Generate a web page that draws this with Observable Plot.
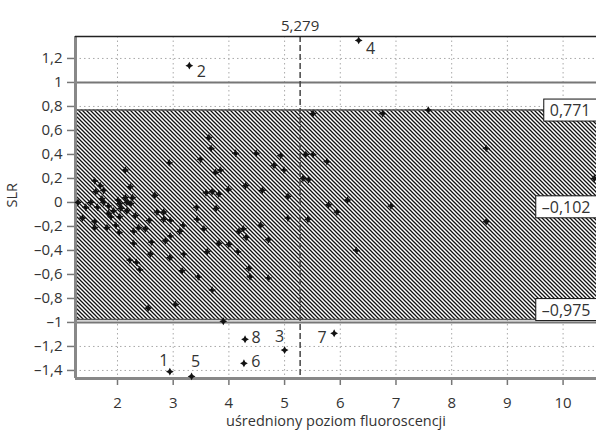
<!DOCTYPE html>
<html><head><meta charset="utf-8">
<script src="https://cdn.jsdelivr.net/npm/d3@7"></script>
<script src="https://cdn.jsdelivr.net/npm/@observablehq/plot@0.6"></script>
<style>body{margin:0;background:#fff;} svg{display:block}</style>
</head><body><div id="chart"></div>
<script>
// ---- data ----
const xValues = [1.29,1.37,1.43,1.52,1.59,1.59,1.59,1.61,1.64,1.69,1.72,1.75,1.75,1.81,1.84,1.84,1.88,1.93,1.97,2.01,2.04,2.04,2.03,2.06,2.14,2.14,2.17,2.17,2.23,2.24,2.27,2.29,2.29,2.32,2.22,2.34,2.40,2.38,2.50,2.55,2.57,2.59,2.61,2.67,2.71,2.83,2.83,2.86,2.93,2.95,2.95,2.94,3.04,3.12,3.18,3.16,3.19,3.42,3.43,3.45,3.49,3.55,3.59,3.61,3.64,3.68,3.70,3.70,3.76,3.85,3.77,3.82,3.82,3.90,3.99,4.00,4.12,4.16,4.18,4.26,4.30,4.31,4.36,4.38,4.49,4.57,4.60,4.71,4.71,4.81,4.93,4.99,5.06,5.06,5.33,5.43,5.38,5.51,5.51,5.76,5.42,5.79,5.94,6.13,6.29,6.76,6.91,7.58,8.62,8.62,10.56];
const yValues = [0.00,-0.13,-0.04,0.00,-0.16,-0.21,0.18,0.09,-0.04,0.14,0.03,0.10,0.00,-0.21,-0.03,-0.09,-0.12,-0.07,-0.19,0.02,-0.01,-0.12,-0.25,-0.05,0.27,0.04,0.00,-0.07,0.13,-0.01,0.04,-0.24,-0.34,-0.11,-0.48,-0.50,-0.56,-0.21,-0.22,-0.88,-0.15,-0.43,-0.33,0.06,-0.08,-0.08,-0.14,-0.32,0.33,-0.28,-0.15,-0.46,-0.85,-0.24,-0.19,-0.57,-0.43,-0.04,-0.14,-0.62,0.36,-0.22,0.08,-0.41,0.54,0.45,0.09,-0.73,0.25,0.27,-0.05,0.07,-0.34,-0.99,0.11,-0.35,0.41,-0.41,-0.24,-0.22,0.14,-0.29,-0.55,-0.62,0.41,-0.19,0.10,-0.31,-0.63,0.31,0.39,0.27,0.05,-0.13,0.20,0.19,0.40,0.40,0.74,0.34,-0.14,-0.02,-0.08,0.02,-0.40,0.74,-0.03,0.77,0.45,-0.16,0.20];
const outlierLabels = ["1","2","3","4","5","6","7","8"];
const outlierX = [2.94,3.29,5.00,6.33,3.33,4.27,5.89,4.29];
const outlierY = [-1.41,1.14,-1.23,1.35,-1.45,-1.34,-1.09,-1.14];
const meanX = 5.279;
const bandValues = [0.771,-0.102,-0.975];
const limitLines = [1,-1];
const xTicks = [2,3,4,5,6,7,8,9,10];
const yTicks = [-1.4,-1.2,-1,-0.8,-0.6,-0.4,-0.2,0,0.2,0.4,0.6,0.8,1,1.2];
const xLabel = "uśredniony poziom fluoroscencji";
const yLabel = "SLR";

// ---- chart ----
const xDomain = [1.246, 10.6];
const yDomain = [-1.467, 1.383];
const fmt = v => String(v).replace(".", ",").replace("-", "\u2013");
const fmtY = v => fmt(Math.round(v * 10) / 10);
const font = "'Open Sans', sans-serif";
const ink = "#333";

// four-pointed star marker
const star4 = {
  draw(context, size) {
    const R = Math.sqrt(size / Math.PI) * 1.15, r = R * 0.5;
    for (let i = 0; i < 8; i++) {
      const a = i * Math.PI / 4 - Math.PI / 2;
      const rad = i % 2 ? r : R;
      const px = rad * Math.cos(a), py = rad * Math.sin(a);
      i ? context.lineTo(px, py) : context.moveTo(px, py);
    }
    context.closePath();
  }
};

const points = xValues.map((x, i) => ({x, y: yValues[i]}));
const outliers = outlierLabels.map((label, i) => ({label, x: outlierX[i], y: outlierY[i]}));
const allPoints = points.concat(outliers);
const place = {"1":[-6,-11],"2":[12,6],"3":[-5,-13],"4":[12,8],"5":[4,-15],"6":[12,-1],"7":[-12,5],"8":[11,-1]};
const boxDy = [1, -7, -9];

const svg = Plot.plot({
  width: 596, height: 435,
  marginLeft: 75, marginRight: 0, marginTop: 36, marginBottom: 57,
  style: {fontFamily: font, fontSize: "14px", background: "white", color: ink},
  x: {domain: xDomain, label: null},
  y: {domain: yDomain, label: null},
  marks: [
    Plot.gridX(xTicks, {stroke: "#aaa", strokeOpacity: 1, strokeDasharray: "1.5,3", strokeWidth: 1}),
    Plot.gridY(yTicks, {stroke: "#aaa", strokeOpacity: 1, strokeDasharray: "1.5,3", strokeWidth: 1}),
    Plot.rect([0], {x1: xDomain[0], x2: xDomain[1], y1: bandValues[2], y2: bandValues[0], fill: "url(#hatch)"}),
    Plot.ruleY([bandValues[0], bandValues[2]], {stroke: "#555", strokeWidth: 1.5}),
    Plot.ruleY(limitLines, {stroke: "#777", strokeWidth: 2}),
    Plot.ruleX([meanX], {stroke: "#444", strokeWidth: 1.5, strokeDasharray: "6,3"}),
    Plot.axisX({ticks: xTicks, tickSize: 7, tickPadding: 12, tickFormat: d => String(d), stroke: "#777", strokeWidth: 1.5, fill: ink, label: null, fontSize: 15}),
    Plot.axisY({ticks: yTicks, tickSize: 8, tickPadding: 5, tickFormat: fmtY, stroke: "#777", strokeWidth: 1.5, fill: ink, label: null, fontSize: 15}),
    Plot.ruleX([xDomain[0]], {stroke: "#888", strokeWidth: 3}),
    Plot.ruleY([yDomain[0]], {stroke: "#888", strokeWidth: 3}),
    Plot.ruleY([yDomain[1]], {stroke: "#222", strokeWidth: 1.5}),
    Plot.dot(allPoints, {x: "x", y: "y", symbol: star4, r: 3.4, fill: "#111"}),
    ...outliers.map(o => Plot.text([o], {x: "x", y: "y", text: "label", dx: place[o.label][0], dy: place[o.label][1], fontSize: 16, fill: ink})),
    Plot.text([meanX], {x: d => d, frameAnchor: "top", dy: -16, text: d => fmt(d), fontSize: 15, fill: ink}),
    ...bandValues.map((v, i) => Plot.text([v], {y: d => d, frameAnchor: "right", dx: -6, dy: boxDy[i], textAnchor: "end", text: d => fmt(d), fontSize: 16, fill: ink, className: "boxlabel"})),
    Plot.text([xLabel], {frameAnchor: "bottom", dy: 47, text: d => d, fontSize: 14.5, fill: ink}),
    Plot.text([yLabel], {frameAnchor: "left", dx: -63, rotate: -90, text: d => d, fontSize: 14.5, fill: ink})
  ]
});

const ns = "http://www.w3.org/2000/svg";
const defs = document.createElementNS(ns, "defs");
defs.innerHTML = '<pattern id="hatch" patternUnits="userSpaceOnUse" width="4" height="4"><rect width="4" height="4" fill="white"/><path d="M-1,-1 L5,5 M-1,3 L1,5 M3,-1 L5,1" stroke="#111" stroke-width="1.3"/></pattern>';
svg.insertBefore(defs, svg.firstChild);
document.getElementById("chart").appendChild(svg);

// white boxes with black borders behind the band labels
svg.querySelectorAll(".boxlabel text").forEach(t => {
  const b = t.getBBox();
  const r = document.createElementNS(ns, "rect");
  r.setAttribute("x", b.x - 6);
  r.setAttribute("y", b.y);
  r.setAttribute("width", b.width + 30);
  r.setAttribute("height", b.height);
  r.setAttribute("fill", "white");
  r.setAttribute("stroke", "#111");
  r.setAttribute("stroke-width", 1);
  if (t.getAttribute("transform")) r.setAttribute("transform", t.getAttribute("transform"));
  t.parentNode.insertBefore(r, t);
});
</script>
</body></html>
